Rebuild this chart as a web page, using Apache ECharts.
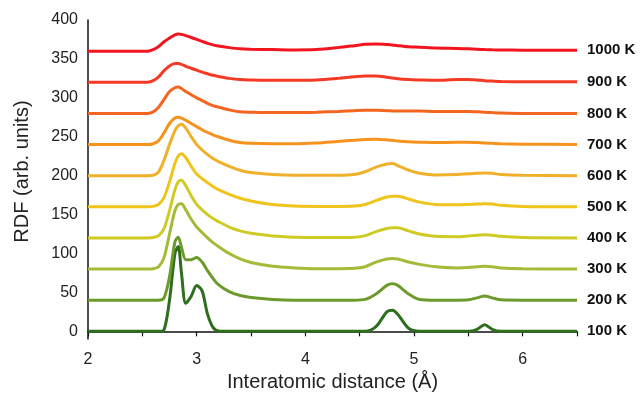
<!DOCTYPE html>
<html>
<head>
<meta charset="utf-8">
<script src="https://cdn.jsdelivr.net/npm/echarts@6/dist/echarts.min.js"></script>
<style>html,body{margin:0;padding:0;background:#fff}#c{width:643px;height:397px}</style>
</head>
<body>
<div id="c"></div>
<script>
// Interatomic distance grid (Å)
const distance = [2.0, 2.55, 2.6, 2.65, 2.7, 2.75, 2.8, 2.83, 2.86, 2.9, 2.95, 3.0, 3.05, 3.1, 3.15, 3.2, 3.3, 3.4, 3.5, 3.7, 3.9, 4.1, 4.3, 4.45, 4.55, 4.65, 4.75, 4.8, 4.85, 4.95, 5.05, 5.2, 5.4, 5.5, 5.58, 5.65, 5.72, 5.8, 6.0, 6.5];

const temperatures = ['100 K','200 K','300 K','400 K','500 K','600 K','700 K','800 K','900 K','1000 K'];
const offsets = [0, 40, 80, 120, 160, 200, 240, 280, 320, 360];
const colors = ['#2e6e1f','#6c9b2c','#a5bb38','#cfcb24','#efc41d','#f1b02a','#f6931f','#f4661f','#f43a24','#f0151f'];

// RDF values (relative to each curve's baseline)
const rdf100  = [0,0,0,0,2,40,100,109,75,36,45,59,52,22,5,0.5,0,0,0,0,0,0,0,0,0,6,25,27,22,4,0,0,0,0,2.5,8.5,2.5,0,0,0];
const rdf200  = [0,0,0,0,3,30,75,81,68,52,52,55,49,38,28,20,11,6,3.5,1,0,0,0,0,1,8,19,21,19,8,1,0,0,0.5,3,5.5,3,0.5,0,0];
const rdf300  = [0,0,0.5,3,15,45,75,83,84,76,64,54,47,40,34,29,20,13,8.5,3.5,1.5,0.5,0.5,1,3,9,13,13.5,13,9,6,3,1.5,2,3,3.5,3,1.5,0.5,0];
const rdf400  = [0,0,0.5,3,12,35,62,72,74,67,54,43,36,30,25,21,14,9,6,2.5,1,0.5,0.5,1,3,8,12,13,13,9,5,2,1.5,2.5,3.5,4,3.5,2,0.5,0];
const rdf500  = [0,0,0.5,3,12,32,56,65,68,63,52,42,36,31,26,22,16,11,7.5,3,1,0.5,0.5,1,3,8,12.5,13.5,13.5,10,6,3,2.5,3,3.5,4,3.5,2,0.5,0];
const rdf600  = [0,0,0.5,5,20,40,58,64,66,61,50,40,33,27,22,18,12,7,4,1.5,0.5,0.5,0.5,1.5,5,11,15,15.5,13,7,3,1,1.5,2.5,3,3.5,3,1.5,0.5,0];
const rdf700  = [0,0,1,5,15,27,34,35,34,31,27,23,19,15.5,12.5,10,5.5,2.5,1.5,1,1,2,4,5.5,6.5,6.8,6,5.5,4.5,3.5,3,2.5,3,3,2.5,2,1.5,1,0.5,0];
const rdf800  = [0,0,2,8,18,28,33,34,32,28,24,20,16.5,13,10,8,4.5,2,1.5,1,1,1.5,2.5,3.5,4,4,3.5,3.2,3,3,3,2.5,2.5,2.5,2,1.5,1,0.5,0,0];
const rdf900  = [0,0,2,7,15,21,24,24,23,20.5,18,15.5,13,11,9,7.5,5,3.5,3,2.5,2.5,3,5,7,8,8,6.5,5.5,4.5,3.5,3,2.5,3.5,3.5,3,2,1.5,1,0.7,0.5];
const rdf1000 = [0,0,2,6,12,17,21,22,21.5,20,17.5,15,12.5,10,8,6.5,4.5,3,2.5,2,1.5,2,4.5,7,8.8,9.3,8.5,8,7,5.5,5,4,3.5,3,2.5,2,1.7,1.5,1.2,1];

const allRdf = [rdf100, rdf200, rdf300, rdf400, rdf500, rdf600, rdf700, rdf800, rdf900, rdf1000];

const xTicks = [2, 3, 4, 5, 6];
const yTicks = [0, 50, 100, 150, 200, 250, 300, 350, 400];

const FONT = '"Liberation Sans", Arial, sans-serif';

const series = temperatures.map((name, i) => ({
  name: name,
  type: 'line',
  smooth: 0.3,
  symbol: 'none',
  lineStyle: { width: 3, color: colors[i] },
  itemStyle: { color: colors[i] },
  endLabel: {
    show: true,
    formatter: '{a}',
    distance: 10,
    color: '#111',
    fontFamily: FONT,
    fontWeight: 'bold',
    fontSize: 15
  },
  data: distance.map((d, k) => [d, allRdf[i][k] + offsets[i]])
}));

const chart = echarts.init(document.getElementById('c'), null, { renderer: 'canvas' });
chart.setOption({
  animation: false,
  backgroundColor: '#ffffff',
  grid: { left: 88, right: 66, top: 20, bottom: 55, containLabel: false },
  xAxis: {
    type: 'value',
    min: 2, max: 6.5, interval: 0.5,
    name: 'Interatomic distance (Å)',
    nameLocation: 'middle',
    nameGap: 31,
    nameTextStyle: { fontFamily: FONT, fontSize: 20, color: '#222' },
    axisLine: { show: true, lineStyle: { color: '#111', width: 1.5 } },
    axisTick: { show: true, inside: false, length: 5, lineStyle: { color: '#111', width: 1.2 } },
    splitLine: { show: false },
    axisLabel: {
      margin: 12,
      fontFamily: FONT, fontSize: 16, color: '#222',
      formatter: v => xTicks.includes(v) ? String(v) : ''
    }
  },
  yAxis: {
    type: 'value',
    min: -10, max: 400, interval: 10,
    name: 'RDF (arb. units)',
    nameLocation: 'middle',
    nameGap: 56,
    nameTextStyle: { fontFamily: FONT, fontSize: 20, color: '#222', padding: [0, 0, 0, 16] },
    axisLine: { show: true, lineStyle: { color: '#111', width: 1.5 } },
    axisTick: { show: false },
    splitLine: { show: false },
    axisLabel: {
      margin: 10,
      fontFamily: FONT, fontSize: 16, color: '#222',
      formatter: v => yTicks.includes(v) ? String(v) : ''
    }
  },
  series: series
});
</script>
</body>
</html>
